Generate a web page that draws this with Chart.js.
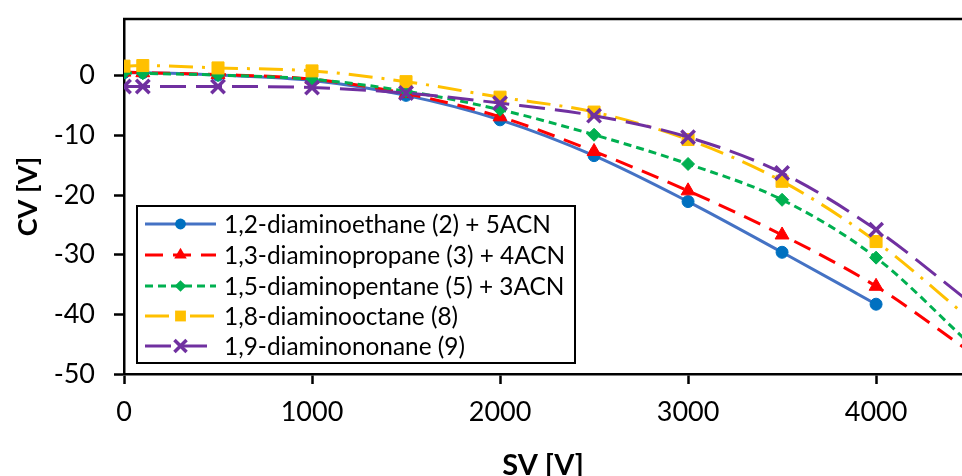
<!DOCTYPE html>
<html><head><meta charset="utf-8">
<script src="https://cdn.jsdelivr.net/npm/chart.js@4.4.1/dist/chart.umd.min.js"></script>
<style>html,body{margin:0;padding:0;background:#fff;}#wrap{width:962px;height:476px;}</style>
</head><body><div id="wrap"><canvas id="c" width="962" height="476"></canvas></div>
<script>
// ---- data ----
const svValues = [0, 100, 500, 1000, 1500, 2000, 2500, 3000, 3500, 4000, 4500];
const cvDiaminoethane  = [0.5, 0.5, 0.1, -0.8, -3.3, -7.4, -13.4, -21.1, -29.6, -38.3, null];
const cvDiaminopropane = [0.6, 0.5, 0.2, -0.6, -3.0, -6.9, -12.7, -19.3, -26.7, -35.3, -46.3];
const cvDiaminopentane = [0.5, 0.4, 0.1, -0.6, -2.6, -5.7, -9.9, -14.8, -20.8, -30.5, -45.0];
const cvDiaminooctane  = [1.6, 1.7, 1.3, 0.8, -1.0, -3.6, -6.1, -10.7, -17.7, -27.8, -40.8];
const cvDiaminononane  = [-1.8, -1.8, -1.8, -2.0, -2.9, -4.6, -6.7, -10.3, -16.3, -25.8, -38.0];
const seriesNames = [
  '1,2-diaminoethane (2) + 5ACN',
  '1,3-diaminopropane (3) + 4ACN',
  '1,5-diaminopentane (5) + 3ACN',
  '1,8-diaminooctane (8)',
  '1,9-diaminononane (9)'
];
const xTickValues = [0, 1000, 2000, 3000, 4000];
const yTickValues = [-50, -40, -30, -20, -10, 0];

function pts(ys){ return svValues.map((x,i)=>({x:x, y:ys[i]})).filter(p=>p.y!==null); }

const styles = [
  {line:'#4472C4', fill:'#0070C0', dash:[], ps:'circle', r:6},
  {line:'#FF0000', fill:'#FF0000', dash:[18,10], ps:'triangle', r:8},
  {line:'#00B050', fill:'#00B050', dash:[8,5], ps:'rectRot', r:6.5},
  {line:'#FFC000', fill:'#FFC000', dash:[24,9,3,9], ps:'rect', r:8.5},
  {line:'#7030A0', fill:'#7030A0', dash:[26,10], ps:'crossRot', r:9.5}
];
const allSeries = [cvDiaminoethane, cvDiaminopropane, cvDiaminopentane, cvDiaminooctane, cvDiaminononane];

const datasets = allSeries.map((ys,i)=>({
  label: seriesNames[i],
  data: pts(ys),
  order: allSeries.length - 1 - i,
  borderColor: styles[i].line,
  backgroundColor: styles[i].fill,
  borderWidth: 3,
  borderDash: styles[i].dash,
  pointStyle: styles[i].ps,
  pointRadius: styles[i].r,
  pointBackgroundColor: styles[i].fill,
  pointBorderColor: styles[i].fill,
  pointBorderWidth: styles[i].ps==='crossRot' ? 3.5 : 1,
  tension: 0.35,
  cubicInterpolationMode: 'monotone'
}));

const FONT = 'Lato, "Open Sans", sans-serif';

const frame = {
  id:'frame',
  afterDatasetsDraw(chart){
    const {ctx, chartArea:a} = chart;
    ctx.save();
    ctx.strokeStyle = '#000'; ctx.lineWidth = 2.5; ctx.setLineDash([]);
    ctx.beginPath(); ctx.moveTo(a.left-1, a.top); ctx.lineTo(a.right, a.top); ctx.stroke();
    ctx.restore();
  }
};

function drawMarker(ctx, st, x, y){
  ctx.save();
  ctx.setLineDash([]);
  ctx.fillStyle = st.fill; ctx.strokeStyle = st.fill;
  const r = st.r;
  ctx.beginPath();
  if (st.ps==='circle'){ ctx.arc(x,y,r,0,Math.PI*2); ctx.fill(); }
  else if (st.ps==='triangle'){ ctx.moveTo(x, y-r); ctx.lineTo(x+r*0.87, y+r*0.5); ctx.lineTo(x-r*0.87, y+r*0.5); ctx.closePath(); ctx.fill(); }
  else if (st.ps==='rectRot'){ ctx.moveTo(x, y-r); ctx.lineTo(x+r, y); ctx.lineTo(x, y+r); ctx.lineTo(x-r, y); ctx.closePath(); ctx.fill(); }
  else if (st.ps==='rect'){ const s=r*0.707; ctx.rect(x-s,y-s,2*s,2*s); ctx.fill(); }
  else if (st.ps==='crossRot'){ const s=r*0.707; ctx.lineWidth=3.5; ctx.moveTo(x-s,y-s); ctx.lineTo(x+s,y+s); ctx.moveTo(x+s,y-s); ctx.lineTo(x-s,y+s); ctx.stroke(); }
  ctx.restore();
}

const boxLegend = {
  id:'boxLegend',
  afterDraw(chart){
    const ctx = chart.ctx;
    const bx=137, by=206, bw=438, bh=157;
    ctx.save();
    ctx.fillStyle='#fff'; ctx.fillRect(bx,by,bw,bh);
    ctx.strokeStyle='#000'; ctx.lineWidth=2; ctx.setLineDash([]);
    ctx.strokeRect(bx,by,bw,bh);
    ctx.font = '100px ' + FONT;
    const w100 = ctx.measureText(chart.data.datasets[0].label).width;
    const fs = Math.max(12, Math.min(30, 100 * 327 / w100));
    const rowY = [224, 255, 286, 316, 346];
    chart.data.datasets.forEach((d,i)=>{
      const st = styles[i];
      const y = rowY[i];
      ctx.save();
      ctx.strokeStyle = st.line; ctx.lineWidth = 3; ctx.setLineDash(st.dash);
      ctx.beginPath(); ctx.moveTo(145,y); ctx.lineTo(216,y); ctx.stroke();
      ctx.restore();
      drawMarker(ctx, Object.assign({}, st, {r: st.r*0.9}), 180.5, y);
      ctx.fillStyle='#000'; ctx.font = fs.toFixed(1) + 'px ' + FONT; ctx.textBaseline='middle'; ctx.textAlign='left';
      ctx.fillText(d.label, 224, y+1);
    });
    ctx.restore();
  }
};

new Chart(document.getElementById('c'), {
  type:'line',
  data:{datasets},
  options:{
    responsive:false, animation:false, devicePixelRatio:1,
    layout:{autoPadding:false, padding:{top:19, right:0, left:0, bottom:0}},
    plugins:{legend:{display:false}, tooltip:{enabled:false}},
    scales:{
      x:{
        type:'linear', min:0, max:4457,
        afterBuildTicks(s){ s.ticks = xTickValues.map(v=>({value:v})); },
        afterFit(s){ s.height = 102; s.paddingLeft = 0; s.paddingRight = 0; },
        grid:{display:true, drawOnChartArea:false, drawTicks:true, tickLength:10, tickWidth:2.5, tickColor:'#000'},
        border:{display:true, color:'#000', width:2.5},
        ticks:{color:'#000', font:{family:FONT, size:27}, padding:12, maxRotation:0, callback:(v)=>String(v)},
        title:{display:true, text:'SV [V]', color:'#000', font:{family:FONT, size:29, weight:'bold', lineHeight:0.7}, padding:{top:0,bottom:0}}
      },
      y:{
        type:'linear', min:-50, max:9.5,
        afterBuildTicks(s){ s.ticks = yTickValues.map(v=>({value:v})); },
        afterFit(s){ s.width = 124; s.paddingTop = 0; s.paddingBottom = 0; },
        grid:{display:true, drawOnChartArea:false, drawTicks:true, tickLength:10, tickWidth:2.5, tickColor:'#000'},
        border:{display:true, color:'#000', width:2.5},
        ticks:{color:'#000', font:{family:FONT, size:27}, padding:19, callback:(v)=>String(v)},
        title:{display:true, text:'CV [V]', color:'#000', font:{family:FONT, size:27, weight:'bold', lineHeight:1}, padding:{top:15,bottom:0}}
      }
    }
  },
  plugins:[frame, boxLegend]
});
</script></body></html>
